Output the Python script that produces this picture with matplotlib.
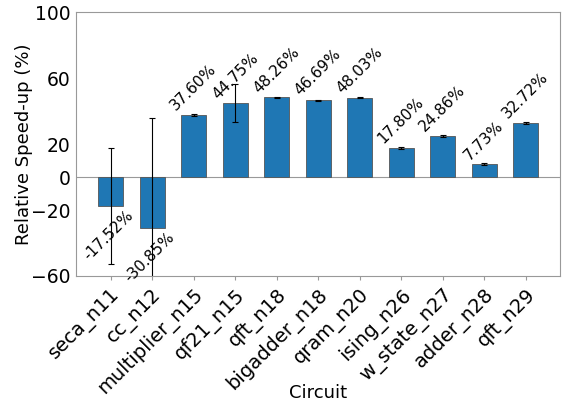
import matplotlib
matplotlib.use("Agg")
import matplotlib.pyplot as plt
import numpy as np

circuits = ["seca_n11", "cc_n12", "multiplier_n15", "qf21_n15", "qft_n18",
            "bigadder_n18", "qram_n20", "ising_n26", "w_state_n27", "adder_n28", "qft_n29"]
speedup = [-17.52, -30.85, 37.60, 44.75, 48.26, 46.69, 48.03, 17.80, 24.86, 7.73, 32.72]
errors = [35.0, 66.5, 0.4, 11.4, 0.3, 0.3, 0.3, 0.5, 0.4, 0.5, 0.4]
yticks = [-60, -20, 0, 20, 60, 100]

fig = plt.figure(figsize=(5.64, 4.07), dpi=100)
ax = fig.add_axes([0.135, 0.322, 0.858, 0.648])

x = np.arange(len(circuits))
ax.bar(x, speedup, width=0.6, color="#1f77b4", edgecolor="#555555", linewidth=0.6,
       yerr=errors, capsize=2, error_kw=dict(ecolor="black", elinewidth=0.8, capthick=0.8),
       zorder=2)
ax.axhline(0, color="#999999", linewidth=0.8, zorder=1)

for xi, v in zip(x, speedup):
    if v >= 0:
        ax.text(xi, v + 1.0, f"{v:.2f}%", ha="center", va="bottom", rotation=45, fontsize=11)
    else:
        ax.text(xi - 0.05, v - 1.0, f"{v:.2f}%", ha="center", va="top", rotation=45, fontsize=11)

ax.set_ylim(-60, 100)
ax.set_yticks(yticks)
ax.set_xticks(x)
ax.set_xticklabels(circuits, rotation=45, ha="right", rotation_mode="anchor", fontsize=14)
ax.tick_params(axis="y", labelsize=13.5, length=0, pad=4)
ax.tick_params(axis="x", length=3, color="#999999")
ax.set_ylabel("Relative Speed-up (%)", fontsize=13)
ax.set_xlabel("Circuit", fontsize=13)
ax.xaxis.set_label_coords(0.5, -0.41)
ax.yaxis.set_label_coords(-0.09, 0.5)
for s in ax.spines.values():
    s.set_color("#999999")

fig.savefig("out.png", dpi=100)
